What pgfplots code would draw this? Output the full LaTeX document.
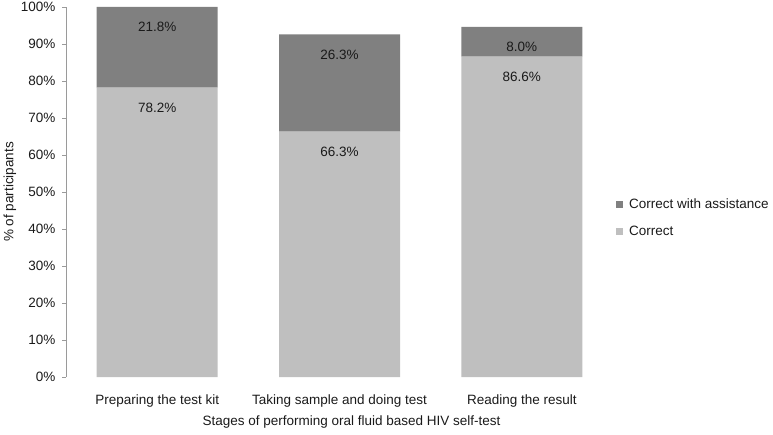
\documentclass[border=0pt]{standalone}
\usepackage{pgfplots}
\pgfplotsset{compat=1.18}
\usepackage{fontspec}
\setmainfont{Liberation Sans}
\definecolor{darkbar}{HTML}{808080}
\definecolor{lightbar}{HTML}{BFBFBF}
\definecolor{axisgray}{HTML}{9A9A9A}
\definecolor{txt}{HTML}{1A1A1A}
\newcommand{\cf}{\fontsize{13.5}{16}\selectfont}
\pgfplotsset{/pgf/number format/assume math mode=true}
\begin{document}
\begin{tikzpicture}
\path[use as bounding box] (0,0) rectangle (773pt,434pt);
\begin{axis}[
  at={(66pt,57pt)}, anchor=south west,
  scale only axis, width=547pt, height=370pt,
  ybar stacked, bar width=121pt,
  xmin=-0.5, xmax=2.5, ymin=0, ymax=100,
  enlargelimits=false,
  xtick=data,
  xticklabels={Preparing the test kit, Taking sample and doing test, Reading the result},
  ytick={0,10,20,30,40,50,60,70,80,90,100},
  yticklabels={0\%,10\%,20\%,30\%,40\%,50\%,60\%,70\%,80\%,90\%,100\%},
  axis lines*=left,
  x axis line style={draw=none},
  y axis line style={-, axisgray},
  xtick style={draw=none},
  ytick style={axisgray},
  tick align=outside,
  major tick length=4pt,
  tick label style={font=\cf, text=txt},
  yticklabel style={xshift=-3pt},
  xticklabel style={anchor=center, yshift=-20pt},
  label style={font=\cf, text=txt},
  xlabel={Stages of performing oral fluid based HIV self-test},
  ylabel={\% of participants},
  xlabel style={at={(rel axis cs:0.5,0)}, anchor=center, xshift=12pt, yshift=-45pt},
  ylabel style={at={(rel axis cs:0,0.5)}, anchor=center, yshift=56pt},
  visualization depends on={rawy \as \rawy},
  nodes near coords={\pgfmathprintnumber[fixed,fixed zerofill,precision=1]{\pgfplotspointmeta}\%},
  every node near coord/.append style={font=\cf, text=txt, anchor=center, yshift={\rawy*1.85pt-20pt}},
  reverse legend,
  legend style={at={(1,0.43)}, anchor=west, draw=none, fill=none, font=\cf, text=txt, row sep=12pt, inner sep=0pt, xshift=3pt,
    /tikz/every odd column/.append style={column sep=4pt}},
  legend cell align=left,
  legend image code/.code={\fill[#1,draw=none] (0pt,-3.5pt) rectangle (7pt,3.5pt);},
]
\addplot[fill=lightbar, draw=none] coordinates {(0,78.2) (1,66.3) (2,86.6)};
\addplot[fill=darkbar, draw=none] coordinates {(0,21.8) (1,26.3) (2,8.0)};
\legend{Correct, Correct with assistance}
\end{axis}
\end{tikzpicture}
\end{document}
